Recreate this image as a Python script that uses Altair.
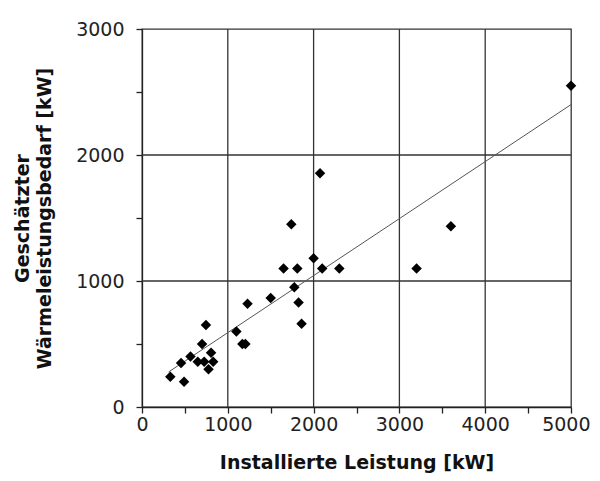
import altair as alt
import pandas as pd

# Installed power [kW] vs. estimated heat demand [kW]
installed_kw = [330, 490, 455, 565, 650, 725, 775, 830, 805, 700, 745,
                1100, 1170, 1205, 1230, 1500, 1650, 1810, 2000, 2100, 2300,
                1775, 1825, 1860, 2075, 1740, 3600, 3200, 5000]
estimated_kw = [240, 200, 350, 400, 360, 360, 300, 360, 430, 500, 650,
                600, 500, 500, 820, 865, 1100, 1100, 1180, 1100, 1100,
                950, 830, 660, 1855, 1450, 1435, 1100, 2550]

# Trend line end points
trend_x = [310, 5000]
trend_y = [278, 2400]

# Grid positions
grid_x = [1000, 2000, 3000, 4000]
grid_y = [1000, 2000]

pts = pd.DataFrame({"x": installed_kw, "y": estimated_kw})
trend = pd.DataFrame({"x": trend_x, "y": trend_y})
gx = pd.DataFrame({"x": grid_x})
gy = pd.DataFrame({"y": grid_y})

FONT = "DejaVu Sans"

xscale = alt.Scale(domain=[0, 5000], nice=False, zero=True)
yscale = alt.Scale(domain=[0, 3000], nice=False, zero=True)

xaxis = alt.Axis(
    title="Installierte Leistung [kW]",
    values=list(range(0, 5001, 500)),
    labelExpr="datum.value % 1000 == 0 ? datum.label : ''",
    format="d",
    grid=False, labelFlush=False,
    labelAlign={"condition": {"test": "datum.value == 5000", "value": "right"},
                "value": "center"},
    labelOffset={"condition": {"test": "datum.value == 5000", "value": 19},
                 "value": 0},
    tickSize=6, labelPadding=2, titlePadding=19,
)
yaxis = alt.Axis(
    title=["Geschätzter", "Wärmeleistungsbedarf [kW]"],
    values=list(range(0, 3001, 500)),
    labelExpr="datum.value % 1000 == 0 ? datum.label : ''",
    format="d",
    grid=False, labelFlush=False,
    tickSize=6, labelPadding=12, titlePadding=21,
)

base = alt.Chart(pts)

vgrid = alt.Chart(gx).mark_rule(color="#333333", strokeWidth=1.3).encode(
    x=alt.X("x:Q", scale=xscale, axis=xaxis)
)
hgrid = alt.Chart(gy).mark_rule(color="#333333", strokeWidth=1.3).encode(
    y=alt.Y("y:Q", scale=yscale, axis=yaxis)
)

line = alt.Chart(trend).mark_line(color="#555555", strokeWidth=1).encode(
    x=alt.X("x:Q", scale=xscale, axis=xaxis),
    y=alt.Y("y:Q", scale=yscale, axis=yaxis),
)

points = base.mark_point(shape="diamond", filled=True, color="black",
                         size=110, opacity=1).encode(
    x=alt.X("x:Q", scale=xscale, axis=xaxis),
    y=alt.Y("y:Q", scale=yscale, axis=yaxis),
)

chart = alt.layer(vgrid, hgrid, line, points).properties(
    width=429, height=378,
    autosize=alt.AutoSizeParams(type="none"),
    padding={"left": 134, "top": 21, "right": 21, "bottom": 66},
    background="white",
).configure_view(
    stroke="#333333", strokeWidth=1.3
).configure_axis(
    labelFont=FONT, titleFont=FONT,
    labelFontSize=19, titleFontSize=19,
    labelColor="#222222", titleColor="#111111",
    titleFontWeight="bold",
    domainColor="#222222", tickColor="#222222",
    domainWidth=1.3, tickWidth=1.3,
    titleLineHeight=22,
)

chart.save("out.html", embed_options={"renderer": "svg", "actions": False})
